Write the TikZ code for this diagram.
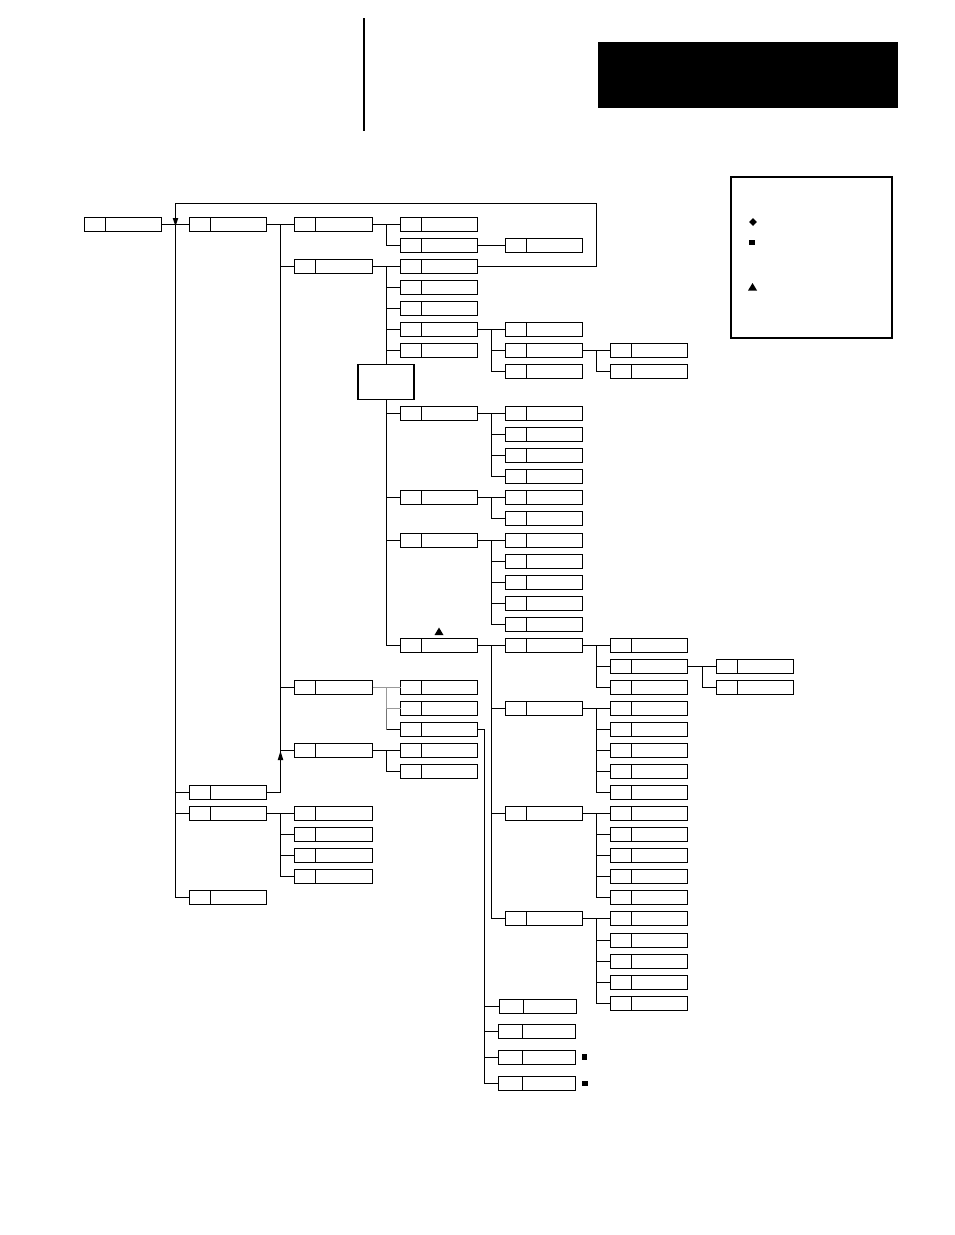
\documentclass[tikz,border=0pt]{standalone}
\usetikzlibrary{shapes.geometric}
\tikzset{
  cell/.style={draw=black,line width=0.95pt,rectangle,inner sep=0pt,outer sep=0pt,minimum height=14pt,anchor=west,fill=white},
  link/.style={draw=black,line width=0.95pt},
  faint/.style={draw=black!40,line width=0.95pt},
  plainbox/.style={draw=black,line width=0.95pt,rectangle,inner sep=0pt,outer sep=0pt,fill=white},
}
% \cells{letter}{left x}{width}{divider}{y list}
\newcommand\cells[5]{%
  \foreach \yy in {#5}{%
    \node[cell,minimum width=#3pt] (#1\yy) at (#2,\yy) {};
    \draw[line width=0.95pt] ([xshift=#4pt]#1\yy.north west) -- ([xshift=#4pt]#1\yy.south west);
  }}
% \tree{parent}{bus coordinate}{children}
\newcommand\tree[3]{%
  \foreach \kid in {#3}{\draw[link] (#1.east) -- (#1.east -| #2) |- (\kid.west);}}
\begin{document}
\begin{tikzpicture}[x=1pt,y=-1pt]
\useasboundingbox (0,0) rectangle (954,1235);
\fill[white] (0,0) rectangle (954,1235);
\node[rectangle,fill=black,inner sep=0pt,outer sep=0pt,minimum width=300pt,minimum height=66pt] (head) at (748,75) {};
\coordinate (ruleA) at (364,18);
\coordinate (ruleB) at (364,131);
\draw[line width=1.7pt] (ruleA) -- (ruleB);
\node[plainbox,line width=1.5pt,minimum width=161pt,minimum height=161pt] (legend) at (811.5,257.5) {};
\begin{scope}[shift={(0.5,0.5)}]
% bus positions
\coordinate (b175) at (175,0);
\coordinate (b280) at (280,0);
\coordinate (b386) at (386,0);
\coordinate (b491) at (491,0);
\coordinate (b596) at (596,0);
\coordinate (b702) at (702,0);
\coordinate (b484) at (484,0);
% cells
\cells{A}{84}{77}{21}{224}
\cells{B}{189}{77}{21}{224,792,813,897}
\cells{C}{294}{78}{21}{224,266,687,750,813,834,855,876}
\cells{D}{400}{77}{21}{224,245,266,287,308,329,350,413,497,540,645,687,708,729,750,771}
\cells{E}{505}{77}{21}{245,329,350,371,413,434,455,476,497,518,540,561,582,603,624,645,708,813,918}
\cells{F}{610}{77}{21}{350,371,645,666,687,708,729,750,771,792,813,834,855,876,897,918,940,961,982,1003}
\cells{G}{716}{77}{21}{666,687}
\cells{H}{499}{77}{24}{1006}
\cells{H}{498}{77}{24}{1031,1057,1083}
\node[plainbox,line width=1.2pt,minimum width=56pt,minimum height=35pt] (note) at (385.5,381.5) {};
% connectors
\draw[link] (A224.east) -- (B224.west);
\coordinate (top) at (175,203);
\coordinate (topr) at (596,203);
\draw[link] (D266.east) -| (topr) -- (top) -- (top |- B897.west) -- (B897.west);
\draw[link] (B792.west) -- (B792.west -| b175);
\draw[link] (B813.west) -- (B813.west -| b175);
\tree{B224}{b280}{C224,C266,C687,C750}
\draw[link] (B792.east) -| (C750.west -| b280);
\tree{B813}{b280}{C813,C834,C855,C876}
\tree{C224}{b386}{D224,D245}
\draw[link] (D245.east) -- (E245.west);
\tree{C266}{b386}{D266,D287,D308,D329,D350}
\draw[link] (b386 |- D350.west) -- (b386 |- note.north);
\foreach \kid in {D413,D497,D540,D645}{\draw[link] (b386 |- note.south) |- (\kid.west);}
\tree{D329}{b491}{E329,E350,E371}
\tree{E350}{b596}{F350,F371}
\tree{D413}{b491}{E413,E434,E455,E476}
\tree{D497}{b491}{E497,E518}
\tree{D540}{b491}{E540,E561,E582,E603,E624}
\tree{D645}{b491}{E645,E708,E813,E918}
\tree{E645}{b596}{F645,F666,F687}
\tree{F666}{b702}{G666,G687}
\tree{E708}{b596}{F708,F729,F750,F771,F792}
\tree{E813}{b596}{F813,F834,F855,F876,F897}
\tree{E918}{b596}{F918,F940,F961,F982,F1003}
\draw[faint] (C687.east) -- (D687.west);
\draw[faint] (C687.east -| b386) |- (D708.west);
\draw[faint,black!55] (D708.west -| b386) -- (D729.west -| b386);
\draw[link] (D729.west -| b386) -- (D729.west);
\tree{C750}{b386}{D750,D771}
\foreach \kid in {H1006,H1031,H1057,H1083}{\draw[link] (D729.east) -- (D729.east -| b484) |- (\kid.west);}
\end{scope}
% arrowheads and markers
\fill (172.7,218) -- (178.3,218) -- (175.5,226.5) -- cycle;
\fill (277.7,760) -- (283.3,760) -- (280.5,751) -- cycle;
\fill (753,218) -- (756.8,222) -- (753,226) -- (749.2,222) -- cycle;
\fill (749,239.5) rectangle (755,245);
\fill (748,290.5) -- (757,290.5) -- (752.5,283) -- cycle;
\fill (434.5,635) -- (443.5,635) -- (439,627.5) -- cycle;
\fill (582,1054) rectangle (587,1060);
\fill (582,1080.5) rectangle (588,1086);
\end{tikzpicture}
\end{document}
